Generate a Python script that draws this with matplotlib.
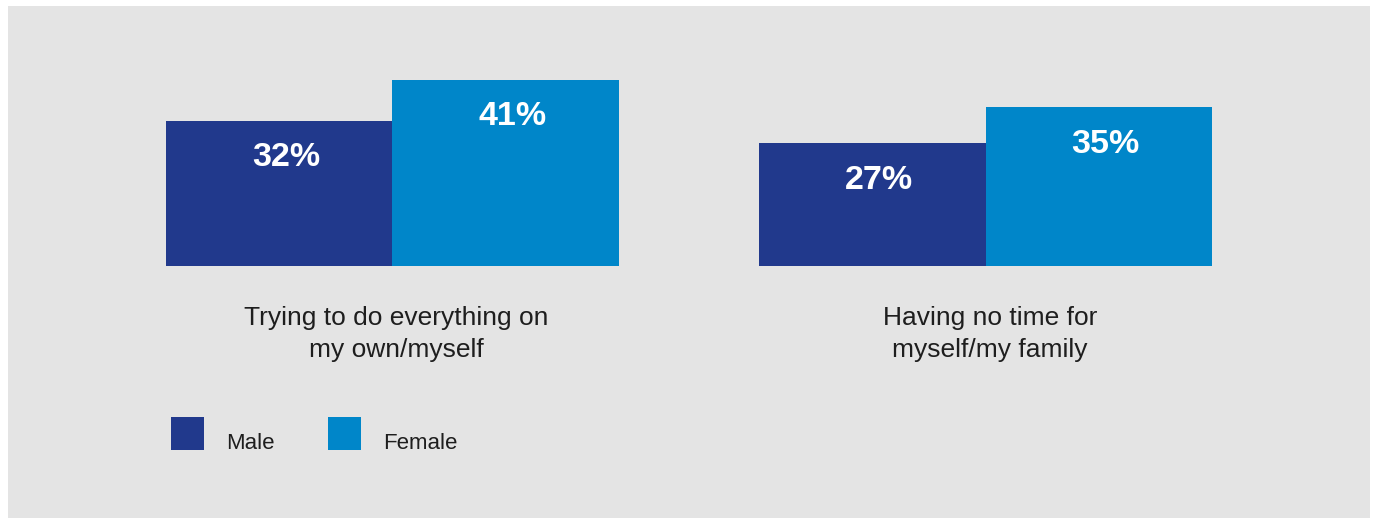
import matplotlib.pyplot as plt
from matplotlib.patches import Rectangle

# stress factors by gender (%)
categories = ["Trying to do everything on\nmy own/myself", "Having no time for\nmyself/my family"]
male = [32, 27]
female = [41, 35]
series_names = ["Male", "Female"]

MALE_C = "#21398c"
FEMALE_C = "#0086c9"
PANEL_C = "#e4e4e4"
TEXT_C = "#1e1e1e"

W, H = 1377, 518
plt.rcParams["font.family"] = ["Liberation Sans", "DejaVu Sans"]

fig = plt.figure(figsize=(W / 100, H / 100), dpi=100)
fig.patch.set_facecolor("white")
fig.add_artist(Rectangle((8 / W, 0), 1362 / W, (H - 6) / H, transform=fig.transFigure,
                         facecolor=PANEL_C, edgecolor="none", zorder=0))

# axes spans the bar area: left edge of first bar to right edge of last bar
ax_left, ax_right, base_y, top_y = 166, 1212, 265.5, 6
ax = fig.add_axes([ax_left / W, 1 - base_y / H, (ax_right - ax_left) / W, (base_y - top_y) / H])
ax.set_facecolor("none")
px_per_pct = 4.52
ax.set_ylim(0, (base_y - top_y) / px_per_pct)

centers = [1.0, 3.62]
ax.set_xlim(0, 4.62)
xm = [c - 0.5 for c in centers]
xf = [c + 0.5 for c in centers]
bm = ax.bar(xm, male, width=1.0, color=MALE_C, linewidth=0)
bf = ax.bar(xf, female, width=1.0, color=FEMALE_C, linewidth=0)

for bars, vals in ((bm, male), (bf, female)):
    for b, v in zip(bars, vals):
        ax.annotate(f"{v}%", xy=(b.get_x() + b.get_width() / 2, v), xytext=(5, -26.5),
                    textcoords="offset points", ha="center", va="center",
                    fontsize=24.5, fontweight="bold", color="white")

for c, lab in zip(centers, categories):
    ax.annotate(lab, xy=(c, 0), xytext=(3, -29), textcoords="offset points",
                ha="center", va="top", fontsize=19, color=TEXT_C, linespacing=1.45,
                annotation_clip=False)

ax.axis("off")

# legend drawn as plain squares and labels
for x_sq, x_txt, col, name in ((171, 226, MALE_C, series_names[0]), (328, 383, FEMALE_C, series_names[1])):
    fig.add_artist(Rectangle((x_sq / W, 1 - 450 / H), 33 / W, 33 / H, transform=fig.transFigure,
                             facecolor=col, edgecolor="none"))
    fig.text(x_txt / W, 1 - 449 / H, name, fontsize=16, color=TEXT_C, va="baseline", ha="left")

fig.savefig("out.png", dpi=100)
